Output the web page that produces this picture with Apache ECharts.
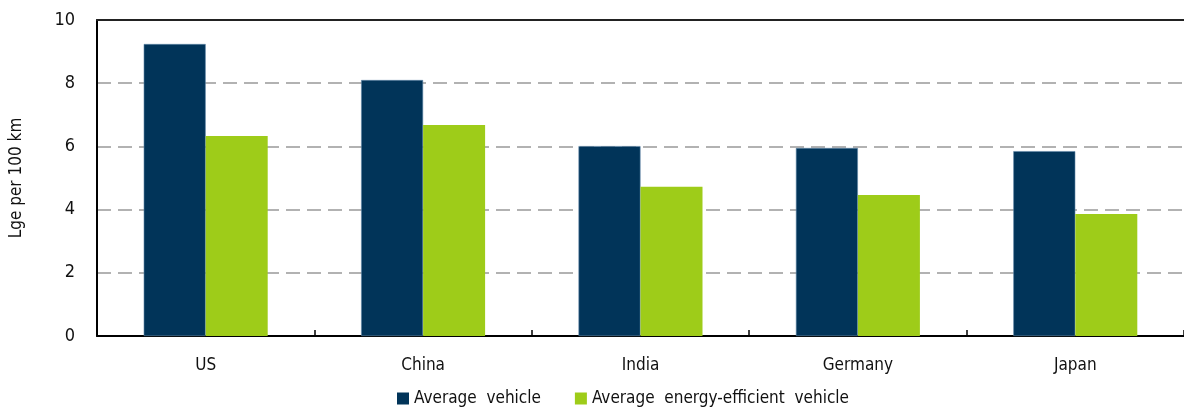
<!DOCTYPE html>
<html><head><meta charset="utf-8">
<script src="https://cdn.jsdelivr.net/npm/echarts@6/dist/echarts.min.js"></script>
<style>html,body{margin:0;padding:0;background:#fff;overflow:hidden}#c{width:1184px;height:409px}</style>
</head><body><div id="c"></div>
<script>
const categories = ['US', 'China', 'India', 'Germany', 'Japan'];
const averageVehicle = [9.24, 8.1, 6.01, 5.95, 5.85];
const efficientVehicle = [6.33, 6.68, 4.72, 4.46, 3.86];
const seriesNames = ['Average  vehicle', 'Average  energy-efficient  vehicle'];
const yTicks = [0, 2, 4, 6, 8, 10];

const FONT = "'Liberation Sans Narrow', 'DejaVu Sans Condensed', 'Roboto Condensed', sans-serif";
const chart = echarts.init(document.getElementById('c'), null, {renderer: 'canvas'});
chart.setOption({
  animation: false,
  textStyle: {fontFamily: FONT, color: '#111'},
  grid: {left: 96, right: -5, top: 20, bottom: 73, containLabel: false},
  legend: {
    top: 385, left: 392, itemWidth: 12, itemHeight: 12, itemGap: 34,
    icon: 'rect',
    itemStyle: {borderWidth: 0},
    textStyle: {fontFamily: FONT, fontSize: 17, color: '#111'},
    data: seriesNames
  },
  xAxis: [{
    type: 'category', data: categories,
    axisLine: {lineStyle: {color: '#000', width: 2}},
    axisTick: {show: true, inside: true, length: 6, lineStyle: {color: '#000', width: 1.5}},
    axisLabel: {fontFamily: FONT, fontSize: 17, color: '#111', margin: 21}
  }, {
    type: 'category', data: categories, position: 'top',
    axisLine: {show: true, lineStyle: {color: '#222', width: 2}},
    axisTick: {show: false}, axisLabel: {show: false}
  }],
  yAxis: {
    type: 'value', min: 0, max: 10, interval: 2,
    name: 'Lge per 100 km', nameLocation: 'middle', nameGap: 72, nameRotate: 90,
    nameTextStyle: {fontFamily: FONT, fontSize: 17, color: '#111'},
    axisLine: {show: true, lineStyle: {color: '#000', width: 2}},
    axisTick: {show: false},
    axisLabel: {fontFamily: FONT, fontSize: 18, color: '#111', margin: 22,
      formatter: v => yTicks.includes(v) ? String(v) : ''},
    splitLine: {show: true, lineStyle: {color: '#999', width: 1.5, type: [14, 7]}}
  },
  series: [{
    name: seriesNames[0], type: 'bar', data: averageVehicle,
    barWidth: 62, barGap: '0%',
    itemStyle: {color: '#013459', borderColor: '#5f86a8', borderWidth: 0.6}
  }, {
    name: seriesNames[1], type: 'bar', data: efficientVehicle,
    barWidth: 62, barGap: '0%',
    itemStyle: {color: '#9ecc19'}
  }]
});
</script></body></html>
